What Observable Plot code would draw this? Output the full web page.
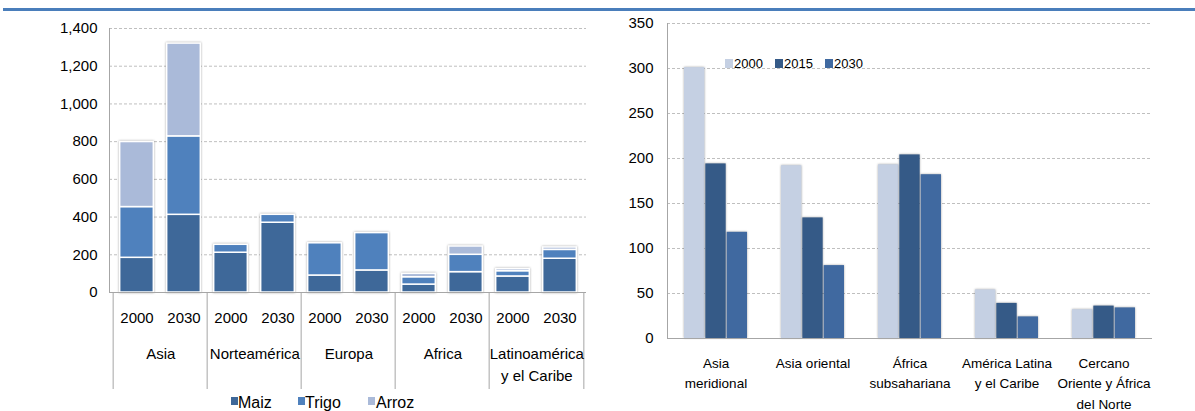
<!DOCTYPE html>
<html>
<head>
<meta charset="utf-8">
<script src="https://cdn.jsdelivr.net/npm/d3@7"></script>
<script src="https://cdn.jsdelivr.net/npm/@observablehq/plot@0.6"></script>
<style>
  html, body { margin: 0; padding: 0; background: #fff; }
  body { width: 1195px; height: 411px; position: relative; overflow: hidden;
         font-family: "Liberation Sans", Arial, sans-serif; }
  #topline { position: absolute; left: 3px; top: 8px; width: 1192px; height: 3px; background: #4a7ebb; }
  #left { position: absolute; left: 0; top: 0; }
  #right { position: absolute; left: 600px; top: 0; }
  svg g[aria-label="bar"] { filter: drop-shadow(0 0 1.2px rgba(0,0,0,0.35)); }
  .legend { position: absolute; color: #000; white-space: nowrap; }
  .legend span.sw { display: inline-block; position: absolute; }
  .legend span.lb { position: absolute; }
</style>
</head>
<body>
<div id="topline"></div>
<div id="left"></div>
<div id="right"></div>
<div id="legendLeft" class="legend"></div>
<div id="legendRight" class="legend"></div>
<script>
// ---------- Left chart data ----------
const leftRegions = ["Asia", "Norteamérica", "Europa", "Africa", "Latinoamérica\ny el Caribe"];
const leftYears = ["2000", "2030"];
const crops = ["Maiz", "Trigo", "Arroz"];
// values per bar, ordered Asia 2000, Asia 2030, Norteamérica 2000, ...
const maizValues  = [184, 412, 211, 370,  90, 117, 42, 108, 85, 179];
const trigoValues = [269, 416,  42,  42, 171, 198, 39,  92, 28,  47];
const arrozValues = [345, 492,   0,   0,   0,   0, 18,  44, 11,  13];
const leftTicks = [0, 200, 400, 600, 800, 1000, 1200, 1400];
const cropColors = ["#3e6899", "#4f81bd", "#aabad9"];

// ---------- Right chart data ----------
const rightRegions = ["Asia\nmeridional", "Asia oriental", "África\nsubsahariana", "América Latina\ny el Caribe", "Cercano\nOriente y África\ndel Norte"];
const rightYears = ["2000", "2015", "2030"];
const values2000 = [301, 192, 193, 54, 32];
const values2015 = [194, 134, 204, 39, 36];
const values2030 = [118,  81, 182, 24, 34];
const rightTicks = [0, 50, 100, 150, 200, 250, 300, 350];
const yearColors = ["#c5d0e3", "#355a87", "#4069a0"];

const FONT = '"Liberation Sans", Arial, sans-serif';
const gridStyle = {stroke: "#bfbfbf", strokeOpacity: 1, strokeDasharray: "3,2"};
const axisGray = "#a6a6a6";

// ---------- Left chart ----------
const keys = [];
leftRegions.forEach(r => leftYears.forEach(y => keys.push(r + "|" + y)));
const cropValues = [maizValues, trigoValues, arrozValues];
const leftData = [];
keys.forEach((k, i) => crops.forEach((c, j) => {
  const v = cropValues[j][i];
  if (v > 0) leftData.push({key: k, crop: c, value: v});
}));

const LW = 600, LH = 411, LML = 109, LMR = 14, LMT = 28, LMB = 119;
const lStep = (LW - LML - LMR) / keys.length;
const firstKeys = leftRegions.map(r => r + "|" + leftYears[0]);

const left = Plot.plot({
  width: LW, height: LH,
  marginLeft: LML, marginRight: LMR, marginTop: LMT, marginBottom: LMB,
  style: {fontFamily: FONT, fontSize: "15px", color: "#000", background: "transparent"},
  x: {domain: keys, padding: 0},
  y: {domain: [0, 1400]},
  color: {domain: crops, range: cropColors},
  marks: [
    Plot.gridY({ticks: leftTicks, ...gridStyle}),
    Plot.axisY({ticks: leftTicks, tickSize: 0, tickPadding: 12, tickFormat: d3.format(","), label: null, fontSize: 15}),
    Plot.barY(leftData, {x: "key", y: "value", fill: "crop", stroke: "white", strokeWidth: 1.5,
      insetLeft: lStep * 0.14, insetRight: lStep * 0.14}),
    Plot.ruleY([0], {stroke: axisGray}),
    Plot.frame({anchor: "left", stroke: axisGray}),
    Plot.axisX({tickSize: 0, tickPadding: 19.7, tickFormat: k => k.split("|")[1], label: null, fontSize: 15}),
    Plot.ruleX(firstKeys, {x: d => d, y1: d => 0, y2: d => 0, insetBottom: -97, dx: -lStep / 2, stroke: axisGray}),
    Plot.ruleX([keys[keys.length - 1]], {x: d => d, y1: d => 0, y2: d => 0, insetBottom: -97, dx: lStep / 2, stroke: axisGray}),
    Plot.text(leftRegions, {x: r => r + "|" + leftYears[0], y: d => 0, text: d => d, dx: lStep / 2, dy: 51.3,
      lineAnchor: "top", lineHeight: 1.45, fontSize: 15, fill: "#000"})
  ]
});
document.getElementById("left").append(left);

// ---------- Right chart ----------
const RW = 595, RH = 411, RML = 67, RMR = 43, RMT = 23, RMB = 73;
const rStep = (RW - RML - RMR) / rightRegions.length;
const groupW = rStep * 0.66;
const barW = groupW / 3;
const seriesValues = [values2000, values2015, values2030];
const barMarks = rightYears.map((yr, j) => {
  const data = rightRegions.map((r, i) => ({region: r, year: yr, value: seriesValues[j][i]}));
  const insetLeft = (rStep - groupW) / 2 + j * barW + 0.5;
  const insetRight = rStep - insetLeft - barW + 1;
  return Plot.barY(data, {x: "region", y: "value", fill: "year", insetLeft, insetRight});
});

const right = Plot.plot({
  width: RW, height: RH,
  marginLeft: RML, marginRight: RMR, marginTop: RMT, marginBottom: RMB,
  style: {fontFamily: FONT, fontSize: "15px", color: "#000", background: "transparent"},
  x: {domain: rightRegions, padding: 0, axis: null},
  y: {domain: [0, 350]},
  color: {domain: rightYears, range: yearColors},
  marks: [
    Plot.gridY({ticks: rightTicks, ...gridStyle}),
    Plot.axisY({ticks: rightTicks, tickSize: 0, tickPadding: 14, label: null, fontSize: 15}),
    ...barMarks,
    Plot.ruleY([0], {stroke: axisGray}),
    Plot.frame({anchor: "left", stroke: axisGray}),
    Plot.text(rightRegions, {x: d => d, y: d => 0, text: d => d, dy: 14.2, lineAnchor: "top",
      lineHeight: 1.55, fontSize: 13.5, fill: "#000"})
  ]
});
document.getElementById("right").append(right);

// ---------- Legends (HTML) ----------
function buildLegend(el, items, colors, opts) {
  el.style.left = "0px"; el.style.top = "0px";
  items.forEach((name, i) => {
    const sw = document.createElement("span");
    sw.className = "sw";
    sw.style.left = opts.swX[i] + "px";
    sw.style.top = opts.swY + "px";
    sw.style.width = opts.swW + "px";
    sw.style.height = opts.swH + "px";
    sw.style.background = colors[i];
    el.append(sw);
    const lb = document.createElement("span");
    lb.className = "lb";
    lb.textContent = name;
    lb.style.left = opts.lbX[i] + "px";
    lb.style.top = opts.lbY + "px";
    lb.style.fontSize = opts.fontSize + "px";
    lb.style.lineHeight = "1";
    el.append(lb);
  });
}
buildLegend(document.getElementById("legendLeft"), crops, cropColors,
  {swX: [231, 298, 368], swY: 397, swW: 7, swH: 8, lbX: [238, 305, 376], lbY: 394.8, fontSize: 16});
buildLegend(document.getElementById("legendRight"), rightYears, yearColors,
  {swX: [725, 775, 825], swY: 59, swW: 8, swH: 9, lbX: [734, 784, 834], lbY: 57, fontSize: 13});
</script>
</body>
</html>
